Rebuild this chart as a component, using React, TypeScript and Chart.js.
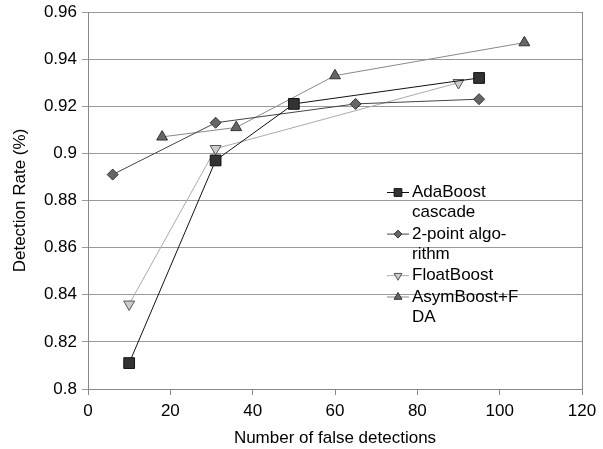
import React, { useEffect, useRef } from "react";
import { Chart, registerables } from "chart.js";

Chart.register(...registerables);

const adaX = [10, 31, 50, 95];
const adaY = [0.811, 0.897, 0.921, 0.932];
const twoX = [6, 31, 65, 95];
const twoY = [0.891, 0.913, 0.921, 0.923];
const floatX = [10, 31, 90];
const floatY = [0.836, 0.902, 0.930];
const asymX = [18, 36, 60, 106];
const asymY = [0.907, 0.911, 0.933, 0.947];

const legendLabels = [
  ["AdaBoost", "cascade"],
  ["2-point algo-", "rithm"],
  ["FloatBoost"],
  ["AsymBoost+F", "DA"],
];

const FONT = "'Liberation Sans', Arial, sans-serif";

const toPts = (xs: number[], ys: number[]) => xs.map((x, i) => ({ x, y: ys[i] }));

function drawPointLocal(ctx: CanvasRenderingContext2D, o: any, x: number, y: number) {
  const r = o.radius;
  ctx.beginPath();
  if (o.pointStyle === "rect") {
    const s = Math.SQRT1_2 * r;
    ctx.rect(x - s, y - s, 2 * s, 2 * s);
  } else if (o.pointStyle === "rectRot") {
    ctx.moveTo(x - r, y);
    ctx.lineTo(x, y - r);
    ctx.lineTo(x + r, y);
    ctx.lineTo(x, y + r);
    ctx.closePath();
  } else {
    let rad = (o.rotation * Math.PI) / 180;
    ctx.moveTo(x + Math.sin(rad) * r, y - Math.cos(rad) * r);
    rad += (2 * Math.PI) / 3;
    ctx.lineTo(x + Math.sin(rad) * r, y - Math.cos(rad) * r);
    rad += (2 * Math.PI) / 3;
    ctx.lineTo(x + Math.sin(rad) * r, y - Math.cos(rad) * r);
    ctx.closePath();
  }
  ctx.fill();
  ctx.stroke();
}

const legendPlugin = {
  id: "customLegend",
  afterDatasetsDraw(chart: any) {
    const ctx = chart.ctx;
    ctx.save();
    ctx.font = `17px ${FONT}`;
    ctx.textBaseline = "middle";
    let y = 192.5;
    const lh = 20.3;
    chart.data.datasets.forEach((ds: any, i: number) => {
      const lines = legendLabels[i];
      ctx.strokeStyle = ds.borderColor;
      ctx.lineWidth = 1;
      ctx.beginPath();
      ctx.moveTo(387, y);
      ctx.lineTo(409, y);
      ctx.stroke();
      ctx.fillStyle = ds.pointBackgroundColor;
      ctx.strokeStyle = ds.pointBorderColor;
      drawPointLocal(
        ctx,
        { pointStyle: ds.pointStyle, rotation: ds.pointRotation || 0, radius: ds.pointRadius * 0.72 },
        398,
        y
      );
      ctx.fillStyle = "#000";
      lines.forEach((t: string, k: number) => {
        ctx.fillText(t, 412, y + k * lh);
      });
      y += lines.length * lh + 1;
    });
    ctx.restore();
  },
};

const borderPlugin = {
  id: "rightBorder",
  beforeDatasetsDraw(chart: any) {
    const { ctx, chartArea } = chart;
    ctx.save();
    ctx.strokeStyle = "#888";
    ctx.lineWidth = 1;
    ctx.beginPath();
    ctx.moveTo(Math.round(chartArea.right) + 0.5, chartArea.top);
    ctx.lineTo(Math.round(chartArea.right) + 0.5, chartArea.bottom);
    ctx.stroke();
    ctx.restore();
  },
};

export default function App() {
  const ref = useRef<HTMLCanvasElement>(null);
  useEffect(() => {
    const chart = new Chart(ref.current!, {
      type: "line",
      data: {
        datasets: [
          {
            label: "AdaBoost cascade",
            data: toPts(adaX, adaY),
            borderColor: "#111",
            borderWidth: 1,
            pointStyle: "rect",
            pointRadius: 7.6,
            pointBackgroundColor: "#333",
            pointBorderColor: "#111",
            pointBorderWidth: 1,
          },
          {
            label: "2-point algorithm",
            data: toPts(twoX, twoY),
            borderColor: "#444",
            borderWidth: 1,
            pointStyle: "rectRot",
            pointRadius: 5.5,
            pointBackgroundColor: "#666",
            pointBorderColor: "#333",
            pointBorderWidth: 1,
          },
          {
            label: "FloatBoost",
            data: toPts(floatX, floatY),
            borderColor: "#aaa",
            borderWidth: 1,
            pointStyle: "triangle",
            pointRotation: 180,
            pointRadius: 6.3,
            pointBackgroundColor: "#ccc",
            pointBorderColor: "#555",
            pointBorderWidth: 1,
          },
          {
            label: "AsymBoost+FDA",
            data: toPts(asymX, asymY),
            borderColor: "#888",
            borderWidth: 1,
            pointStyle: "triangle",
            pointRadius: 6.3,
            pointBackgroundColor: "#666",
            pointBorderColor: "#333",
            pointBorderWidth: 1,
          },
        ] as any,
      },
      options: {
        responsive: false,
        animation: false,
        layout: { padding: { top: 12, right: 21, left: 0, bottom: 0 } },
        plugins: { legend: { display: false }, tooltip: { enabled: false } },
        scales: {
          x: {
            type: "linear",
            min: 0,
            max: 120,
            ticks: { stepSize: 20, color: "#000", font: { family: FONT, size: 17 }, padding: 6, maxRotation: 0 },
            grid: { drawOnChartArea: false, drawTicks: true, tickLength: 6, color: "#888" },
            border: { color: "#888" },
            title: {
              display: true,
              text: "Number of false detections",
              color: "#000",
              font: { family: FONT, size: 17 },
              padding: { top: 0, bottom: 0 },
            },
            afterFit: (s: any) => {
              s.height = 60;
              s.paddingLeft = 0;
              s.paddingRight = 0;
            },
          },
          y: {
            min: 0.8,
            max: 0.96,
            ticks: {
              stepSize: 0.02,
              color: "#000",
              font: { family: FONT, size: 17 },
              padding: 5,
              callback: (v: any) => String(Math.round(Number(v) * 100) / 100),
            },
            grid: { color: "#999", tickLength: 6 },
            border: { color: "#888" },
            title: {
              display: true,
              text: "Detection Rate (%)",
              color: "#000",
              font: { family: FONT, size: 17 },
              padding: { top: 10, bottom: 0 },
            },
            afterFit: (s: any) => {
              s.width = 88;
              s.paddingTop = 0;
              s.paddingBottom = 0;
            },
          },
        },
      },
      plugins: [borderPlugin, legendPlugin],
    });
    return () => chart.destroy();
  }, []);
  return (
    <div style={{ position: "fixed", left: 0, top: 0, width: 603, height: 449, background: "#fff" }}>
      <canvas ref={ref} width={603} height={449} />
    </div>
  );
}
